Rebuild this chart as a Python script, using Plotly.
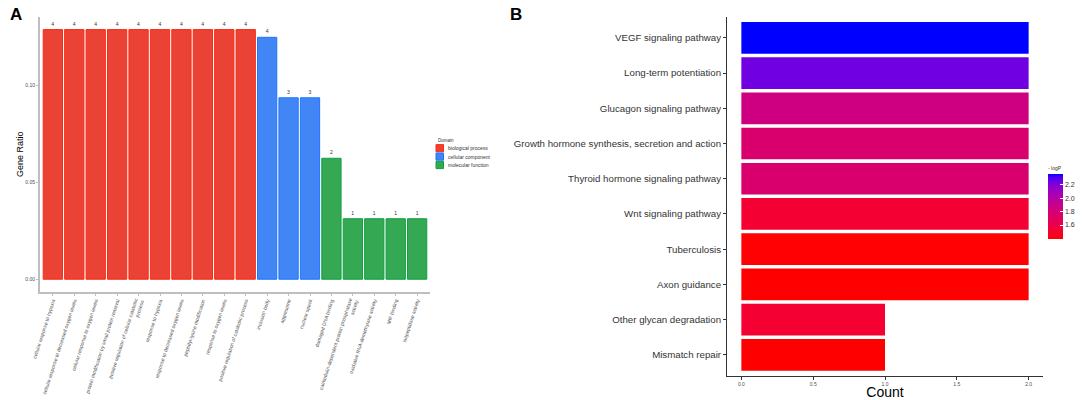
import plotly.graph_objects as go

# ---------------- Panel A data (GO enrichment) ----------------
go_terms = [
    "cellular response to hypoxia",
    "cellular response to decreased oxygen levels",
    "cellular response to oxygen levels",
    "protein modification by small protein removal",
    "positive regulation of cellular catabolic<br>process",
    "response to hypoxia",
    "response to decreased oxygen levels",
    "peptidyl-lysine modification",
    "response to oxygen levels",
    "positive regulation of catabolic process",
    "inclusion body",
    "aggresome",
    "nuclear speck",
    "damaged DNA binding",
    "calmodulin-dependent protein phosphatase<br>activity",
    "oxidative RNA demethylase activity",
    "MIF binding",
    "isopeptidase activity",
]
go_domains = ["biological process"] * 10 + ["cellular component"] * 3 + ["molecular function"] * 5
gene_ratio = [0.129] * 10 + [0.125, 0.09375, 0.09375, 0.0625, 0.03125, 0.03125, 0.03125, 0.03125]
gene_count = [4] * 10 + [4, 3, 3, 2, 1, 1, 1, 1]
domain_names = ["biological process", "cellular component", "molecular function"]

# ---------------- Panel B data (KEGG) ----------------
kegg_pathways = [
    "VEGF signaling pathway",
    "Long-term potentiation",
    "Glucagon signaling pathway",
    "Growth hormone synthesis, secretion and action",
    "Thyroid hormone signaling pathway",
    "Wnt signaling pathway",
    "Tuberculosis",
    "Axon guidance",
    "Other glycan degradation",
    "Mismatch repair",
]
kegg_count = [2, 2, 2, 2, 2, 2, 2, 2, 1, 1]
kegg_logp = [2.358, 2.242, 1.846, 1.759, 1.759, 1.518, 1.397, 1.394, 1.518, 1.392]
logp_ticks = [1.6, 1.8, 2.0, 2.2]

# ---------------- styling helpers ----------------
FONT = "Liberation Sans"
fill_colors = {"biological process": "#EA4335", "cellular component": "#4285F4", "molecular function": "#34A853"}
line_colors = {"biological process": "#FF2A10", "cellular component": "#1F74FF", "molecular function": "#10A040"}

# page body has an 8px margin; work in window pixels
W, H, OFF = 1076, 392, 8


def px_x(X):
    return (X - OFF) / W


def px_y(Y):
    return 1 - (Y - OFF) / H


def srgb_to_lab(rgb):
    def lin(c):
        c = c / 255.0
        return c / 12.92 if c <= 0.04045 else ((c + 0.055) / 1.055) ** 2.4
    r, g, b = (lin(c) for c in rgb)
    X = (0.4124 * r + 0.3576 * g + 0.1805 * b) / 0.95047
    Y = (0.2126 * r + 0.7152 * g + 0.0722 * b)
    Z = (0.0193 * r + 0.1192 * g + 0.9505 * b) / 1.08883
    def f(t):
        return t ** (1 / 3) if t > 0.008856 else 7.787 * t + 16 / 116
    fx, fy, fz = f(X), f(Y), f(Z)
    return (116 * fy - 16, 500 * (fx - fy), 200 * (fy - fz))


def lab_to_srgb(lab):
    L, a, b = lab
    fy = (L + 16) / 116
    fx = fy + a / 500
    fz = fy - b / 200
    def finv(t):
        return t ** 3 if t ** 3 > 0.008856 else (t - 16 / 116) / 7.787
    X, Y, Z = 0.95047 * finv(fx), finv(fy), 1.08883 * finv(fz)
    r = 3.2406 * X - 1.5372 * Y - 0.4986 * Z
    g = -0.9689 * X + 1.8758 * Y + 0.0415 * Z
    bb = 0.0557 * X - 0.2040 * Y + 1.0570 * Z
    def gam(c):
        c = max(0.0, min(1.0, c))
        return 12.92 * c if c <= 0.0031308 else 1.055 * c ** (1 / 2.4) - 0.055
    return tuple(int(round(gam(c) * 255)) for c in (r, g, bb))


lab_lo = srgb_to_lab((255, 0, 0))
lab_hi = srgb_to_lab((0, 0, 255))
colorscale = []
for i in range(21):
    t = i / 20
    lab = tuple(lab_lo[k] + (lab_hi[k] - lab_lo[k]) * t for k in range(3))
    colorscale.append([t, "rgb(%d,%d,%d)" % lab_to_srgb(lab)])

fig = go.Figure()

# Panel A bars
for dom in domain_names:
    xs = [t for t, d in zip(go_terms, go_domains) if d == dom]
    ys = [v for v, d in zip(gene_ratio, go_domains) if d == dom]
    cs = [c for c, d in zip(gene_count, go_domains) if d == dom]
    fig.add_trace(go.Bar(
        x=xs, y=ys, name=dom, text=[str(c) for c in cs],
        textposition="outside", textfont=dict(size=5, color="#333333", family=FONT),
        cliponaxis=False, width=0.9,
        marker=dict(color=fill_colors[dom], line=dict(color=line_colors[dom], width=1)),
        xaxis="x", yaxis="y", showlegend=False,
    ))

# Panel B bars
fig.add_trace(go.Bar(
    x=kegg_count, y=kegg_pathways, orientation="h", width=0.9,
    marker=dict(
        color=kegg_logp, colorscale=colorscale, line=dict(width=0),
        showscale=True,
        colorbar=dict(
            x=px_x(1048), xanchor="left", y=px_y(201), yanchor="middle",
            len=76, lenmode="pixels", thickness=15, thicknessmode="pixels",
            outlinewidth=0, tickvals=logp_ticks,
            ticktext=["%.1f" % v for v in logp_ticks],
            tickfont=dict(size=7, color="#333333", family=FONT),
            ticks="inside", tickcolor="white", ticklen=3,
            title=dict(text="- logP", side="top", font=dict(size=5, color="#333333", family=FONT)),
            xpad=0, ypad=0,
        ),
    ),
    xaxis="x2", yaxis="y2", showlegend=False,
))

# manual legend for panel A (Domain)
shapes = []
annotations = [
    dict(text="Domain", x=px_x(435.5), y=px_y(140.5), xref="paper", yref="paper",
         xanchor="left", yanchor="middle", showarrow=False,
         font=dict(size=4.5, color="#333333", family=FONT)),
]
key_top = 144.0
key_h = 8.4
for i, dom in enumerate(domain_names):
    y0 = key_top + i * key_h
    shapes.append(dict(type="rect", xref="paper", yref="paper",
                       x0=px_x(436), x1=px_x(443.5), y0=px_y(y0 + key_h - 0.6), y1=px_y(y0 + 0.6),
                       fillcolor=fill_colors[dom], line=dict(color=line_colors[dom], width=1)))
    annotations.append(dict(text=dom, x=px_x(445.5), y=px_y(y0 + key_h / 2), xref="paper", yref="paper",
                            xanchor="left", yanchor="middle", showarrow=False,
                            font=dict(size=5, color="#333333", family=FONT)))

annotations += [
    dict(text="<b>A</b>", x=px_x(15.5), y=px_y(14.5), xref="paper", yref="paper",
         xanchor="center", yanchor="middle", showarrow=False,
         font=dict(size=17, color="black", family=FONT)),
    dict(text="<b>B</b>", x=px_x(515.5), y=px_y(14.5), xref="paper", yref="paper",
         xanchor="center", yanchor="middle", showarrow=False,
         font=dict(size=17, color="black", family=FONT)),
]

fig.update_layout(
    width=W, height=H,
    margin=dict(l=0, r=0, t=0, b=0),
    paper_bgcolor="white", plot_bgcolor="white",
    barmode="overlay",
    font=dict(family=FONT, color="#333333"),
    xaxis=dict(
        domain=[px_x(40), px_x(430)], anchor="y",
        type="category", categoryorder="array", categoryarray=go_terms,
        range=[-0.6, 17.6], tickangle=-72,
        tickfont=dict(size=5, color="#4D4D4D", family=FONT),
        ticks="outside", ticklen=2, tickcolor="#BEBEBE",
        showline=True, linecolor="#BEBEBE", linewidth=2,
        showgrid=False, zeroline=False, automargin=False,
    ),
    yaxis=dict(
        domain=[px_y(291.7), px_y(17)], anchor="x",
        range=[-0.00645, 0.1355],
        tickvals=[0, 0.05, 0.10], ticktext=["0.00", "0.05", "0.10"],
        tickfont=dict(size=5, color="#4D4D4D", family=FONT),
        ticks="outside", ticklen=2, tickcolor="#BEBEBE",
        showline=True, linecolor="#BEBEBE", linewidth=2,
        showgrid=False, zeroline=False, automargin=False,
        title=dict(text="Gene Ratio", font=dict(size=9, color="black", family=FONT), standoff=0),
    ),
    xaxis2=dict(
        domain=[px_x(727), px_x(1043)], anchor="y2",
        range=[-0.1, 2.1],
        tickvals=[0, 0.5, 1.0, 1.5, 2.0], ticktext=["0.0", "0.5", "1.0", "1.5", "2.0"],
        tickfont=dict(size=5, color="#4D4D4D", family=FONT),
        ticks="outside", ticklen=3, tickcolor="#333333",
        showline=True, linecolor="#333333", linewidth=1,
        showgrid=False, zeroline=False, automargin=False,
        title=dict(text="Count", font=dict(size=14, color="black", family=FONT), standoff=1),
    ),
    yaxis2=dict(
        domain=[px_y(376), px_y(16.7)], anchor="x2",
        type="category", categoryorder="array", categoryarray=kegg_pathways[::-1],
        range=[-0.6, 9.6],
        tickfont=dict(size=9.7, color="#333333", family=FONT),
        ticks="outside", ticklen=3, tickcolor="#333333",
        showline=True, linecolor="#333333", linewidth=1,
        showgrid=False, zeroline=False, automargin=False,
    ),
    shapes=shapes,
    annotations=annotations,
)

fig.write_html("out.html")
